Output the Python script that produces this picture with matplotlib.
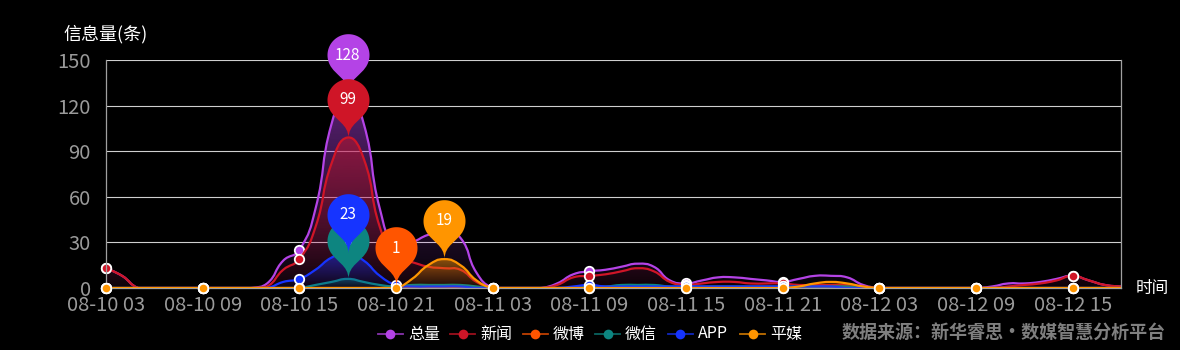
import numpy as np
import matplotlib
matplotlib.use("Agg")
import matplotlib.pyplot as plt
from matplotlib.path import Path
from matplotlib.patches import PathPatch
from matplotlib.lines import Line2D

plt.rcParams['font.family'] = ['Noto Sans CJK SC', 'DejaVu Sans']

# hourly points, 08-10 03 .. 08-12 18
times = ["08-%02d %02d" % (10 + (h + 3) // 24, (h + 3) % 24) for h in range(64)]

total = [13, 8, 0, 0, 0, 0, 0, 0, 0, 0, 3, 18, 25, 52, 108, 128, 108, 52, 27, 30,
         35, 37, 33, 10, 0, 0, 0, 0, 3, 9, 11, 12, 14, 16, 14, 5, 3, 5, 7, 7,
         6, 5, 4, 6, 8, 8, 7, 2, 0, 0, 0, 0, 0, 0, 0, 1, 3, 3, 4, 6,
         8, 5, 2, 1]
news = [13, 8, 0, 0, 0, 0, 0, 0, 0, 0, 1, 12, 19, 40, 82, 99, 85, 40, 20, 17,
        14, 13, 12, 4, 0, 0, 0, 0, 2, 7, 8, 9, 11, 13, 11, 4, 2, 3, 4, 4,
        3, 3, 3, 2, 2, 2, 2, 1, 0, 0, 0, 0, 0, 0, 0, 0, 1, 2, 3, 5,
        8, 5, 2, 1]
weibo = [0] * 18 + [1] + [0] * 45
weixin = [0, 0, 0, 0, 0, 0, 0, 0, 0, 0, 0, 0, 0, 2, 4, 6, 4, 2, 1, 2,
          2, 2, 2, 1, 0, 0, 0, 0, 0, 0, 1, 1, 2, 2, 2, 1, 1, 1, 1, 1,
          1, 1, 1, 1, 1, 1, 1, 0, 0, 0, 0, 0, 0, 0, 0, 0, 0, 0, 0, 0,
          0, 0, 0, 0]
app = [0, 0, 0, 0, 0, 0, 0, 0, 0, 0, 0, 4, 6, 12, 20, 23, 18, 8, 2, 1,
       1, 1, 1, 0, 0, 0, 0, 0, 0, 1, 2, 1, 1, 1, 1, 1, 1, 1, 1, 1,
       1, 1, 1, 1, 1, 1, 0, 0, 0, 0, 0, 0, 0, 0, 0, 0, 0, 0, 0, 0,
       0, 0, 0, 0]
pingmei = [0] * 19 + [6, 15, 19, 15, 5] + [0] * 19 + [1, 3, 4, 3, 1] + [0] * 16

names = ["总量", "新闻", "微博", "微信", "APP", "平媒"]
colors = ["#b443e6", "#cf1527", "#ff5500", "#0d8580", "#1634ff", "#ff9500"]
values = [total, news, weibo, weixin, app, pingmei]

W, H = 1180, 350
fig = plt.figure(figsize=(W / 100, H / 100), dpi=100, facecolor="black")
ax = fig.add_axes([106 / W, 62 / H, 1015 / W, 228 / H], facecolor="black")
ax.set_xlim(0, 63)
ax.set_ylim(0, 150)

# pixels per data unit, used for the smoothing ratio
sx = 1015 / 63
sy = 228 / 150


def smooth_path(ys, smooth=0.5):
    xs = np.arange(len(ys), dtype=float)
    ys = np.asarray(ys, dtype=float)
    n = len(ys)
    cin, cout = [None] * n, [None] * n
    for i in range(n):
        if i == 0 or i == n - 1:
            cin[i] = cout[i] = (xs[i], ys[i])
            continue
        vx, vy = xs[i + 1] - xs[i - 1], ys[i + 1] - ys[i - 1]
        d0 = np.hypot((xs[i] - xs[i - 1]) * sx, (ys[i] - ys[i - 1]) * sy)
        d1 = np.hypot((xs[i + 1] - xs[i]) * sx, (ys[i + 1] - ys[i]) * sy)
        r = d1 / (d0 + d1)
        cout[i] = (xs[i] + vx * smooth * r, max(0, ys[i] + vy * smooth * r))
        cin[i] = (xs[i] - vx * smooth * (1 - r), max(0, ys[i] - vy * smooth * (1 - r)))
    verts = [(xs[0], ys[0])]
    codes = [Path.MOVETO]
    for i in range(n - 1):
        verts += [cout[i], cin[i + 1], (xs[i + 1], ys[i + 1])]
        codes += [Path.CURVE4] * 3
    return verts, codes


# teardrop pin like echarts markPoint, tip at origin, units = pixels
def pin_path(r=21.0, cy=38.3, dy=9.3):
    a = np.arcsin(dy / r)
    dx = np.cos(a) * r
    tx, ty = np.sin(a), np.cos(a)
    c1, c2 = r * 0.6, r * 0.7
    th = np.linspace(np.pi + a, -a, 60)
    verts = [(r * np.cos(t), cy + r * np.sin(t)) for t in th]
    codes = [Path.MOVETO] + [Path.LINETO] * (len(verts) - 1)
    verts += [(dx - tx * c1, cy - dy - ty * c1), (0, c2), (0, 0)]
    codes += [Path.CURVE4] * 3
    verts += [(0, c2), (-dx + tx * c1, cy - dy - ty * c1), (-dx, cy - dy)]
    codes += [Path.CURVE4] * 3
    verts.append((0, 0))
    codes.append(Path.CLOSEPOLY)
    return Path(verts, codes), cy + r


pin, pin_ext = pin_path()
pin_ms = 2 * pin_ext * 0.72

for k, (name, ys, c) in enumerate(zip(names, values, colors)):
    z = 2 + k * 0.1
    verts, codes = smooth_path(ys)
    line = Path(verts, codes)
    area = Path(verts + [(63, 0), (0, 0), (0, 0)],
                codes + [Path.LINETO, Path.LINETO, Path.CLOSEPOLY])
    top = max(max(ys), 0.5)
    rgb = matplotlib.colors.to_rgb(c)
    grad = np.zeros((100, 1, 4))
    grad[:, 0, :3] = rgb
    grad[:, 0, 3] = np.linspace(0.5, 0.04, 100)
    im = ax.imshow(grad, extent=[0, 63, 0, top], aspect="auto", origin="upper",
                   zorder=z, interpolation="bilinear")
    clip = PathPatch(area, transform=ax.transData, facecolor="none", edgecolor="none")
    ax.add_patch(clip)
    im.set_clip_path(clip)
    ax.add_patch(PathPatch(line, facecolor="none", edgecolor=c, lw=1.6, zorder=z + 0.02,
                           capstyle="round", joinstyle="round"))
    ax.plot(np.arange(64)[::6], ys[::6], "o", ms=6.8, mfc=c, mec="white", mew=1.3,
            zorder=z + 0.04, clip_on=False)

    # max pin
    i_max = int(np.argmax(ys))
    ax.plot([i_max], [ys[i_max]], marker=pin, ms=pin_ms, mfc=c, mec="none",
            zorder=5 + k * 0.1, clip_on=False, ls="none")
    ax.annotate(str(ys[i_max]), (i_max, ys[i_max]), xytext=(0, 38.3 * 0.72),
                textcoords="offset points", ha="center", va="center", color="white",
                fontsize=11, zorder=5 + k * 0.1 + 0.05, annotation_clip=False)

ax.set_ylim(0, 150)
ax.set_xlim(0, 63)
ax.set_yticks(range(0, 151, 30))
ax.set_xticks(range(0, 64, 6))
ax.set_xticklabels(times[::6])
ax.tick_params(length=0, labelsize=14.5, colors="#9a9a9a")
ax.tick_params(axis="y", pad=11)
ax.tick_params(axis="x", pad=5)
ax.grid(axis="y", color="#cfcfcf", lw=0.8)
ax.set_axisbelow(True)
for s in ["left", "right", "bottom"]:
    ax.spines[s].set_color("#a0a0a0")
    ax.spines[s].set_linewidth(0.9)
ax.spines["top"].set_visible(False)

fig.text(63 / W, 1 - 34 / H, "信息量(条)", color="white", fontsize=13,
         ha="left", va="center")
fig.text(1136 / W, 1 - 288 / H, "时间", color="white", fontsize=12,
         ha="left", va="center")

# legend
ly = 1 - 334 / H
for k, (name, c) in enumerate(zip(names, colors)):
    x0 = 378 + k * 72.4
    fig.add_artist(Line2D([x0 / W, (x0 + 25) / W], [ly, ly], color=c, lw=1.3,
                          alpha=0.75, transform=fig.transFigure))
    fig.add_artist(Line2D([(x0 + 12.5) / W], [ly], marker="o", ms=7, mfc=c,
                          mec="none", transform=fig.transFigure))
    fig.text((x0 + 30) / W, ly, name, color="white", fontsize=11.5,
             ha="left", va="center")

fig.text(842 / W, 1 - 333 / H, "数据来源：新华睿思·数媒智慧分析平台", color="#7f7f7f",
         fontsize=13, fontweight="bold", ha="left", va="center")

fig.savefig("out.png", dpi=100, facecolor="black")
